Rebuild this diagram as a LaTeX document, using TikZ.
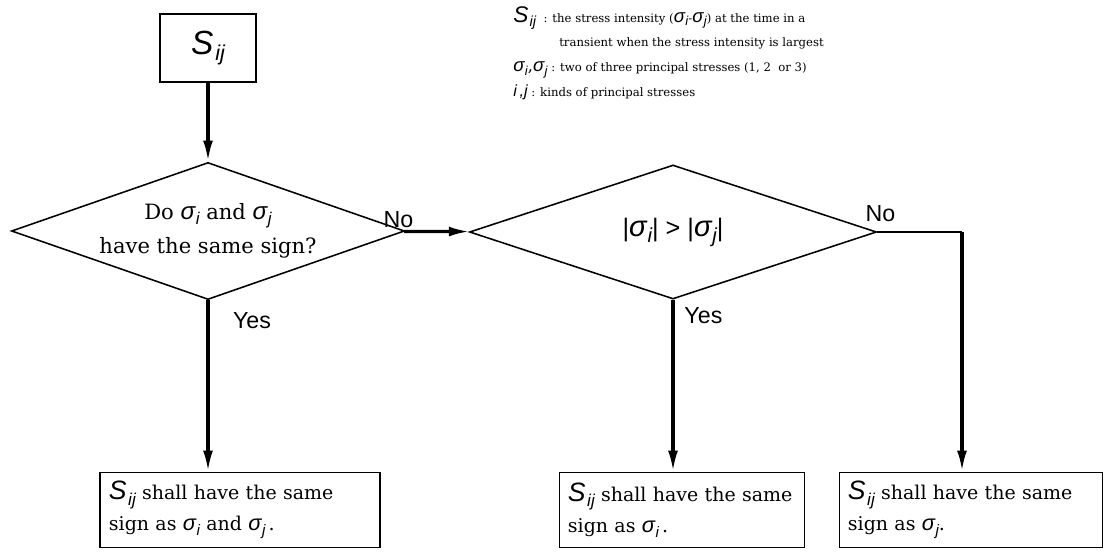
\documentclass[tikz,border=0pt]{standalone}
\usepackage{fontspec}
\setmainfont{DejaVu Serif}
\newfontfamily\helv{Liberation Sans}
\usetikzlibrary{shapes.geometric,arrows.meta,positioning}
\newcommand{\Sij}{{\helv\itshape\scalebox{1.4}{S}\kern.08em\raisebox{-.5ex}{\scalebox{.9}{ij}}}}
\newcommand{\sg}[1]{{\helv\itshape\scalebox{1.15}{σ}\kern.03em\raisebox{-.45ex}{\scalebox{.8}{#1}}}}
\newcommand{\keysize}{\fontsize{11.5}{14}\selectfont}

\begin{document}
\begin{tikzpicture}[x=0.025cm,y=-0.025cm,
  every node/.style={inner sep=0pt},
  flow/.style={line width=2.3pt,-{Latex[length=15pt,width=7pt]}},
  startbox/.style={draw,line width=1pt,minimum width=2.4cm,minimum height=1.7cm},
  decision/.style={draw,diamond,aspect=2.8,line width=1.1pt,align=center,
    font=\fontsize{15}{24}\selectfont},
  outcome/.style={draw,line width=1pt,align=left,inner xsep=6pt,
    minimum height=1.875cm,font=\fontsize{13.5}{22}\selectfont},
  lbl/.style={font=\helv\fontsize{16.5}{18}\selectfont}]
  \useasboundingbox (0,0) rectangle (1109,553);
  % start and decisions
  \node[startbox] (sij) at (208,48) {\fontsize{17}{20}\selectfont\Sij};
  \node[decision,minimum width=9.825cm,minimum height=3.425cm] (same) at (208,231)
    {Do \sg{i} and \sg{j}\\have the same sign?};
  \node[decision,minimum width=10.175cm,minimum height=3.35cm] (abs) at (673,232)
    {\helv\fontsize{18}{21}\selectfont |\sg{i}| > |\sg{j}|};
  % outcomes
  \node[outcome,minimum width=7cm,text width=6.55cm] (both) at (240,510)
    {\Sij{} shall have the same\\sign as \sg{i} and \sg{j}\,.};
  \node[outcome,minimum width=6.125cm,text width=5.7cm] (onei) at (682,510)
    {\Sij{} shall have the same\\sign as \sg{i}\,.};
  \node[outcome,minimum width=6.575cm,text width=6.15cm] (onej) at (971,510)
    {\Sij{} shall have the same\\sign as \sg{j}.};
  \coordinate (turn) at (962,232);
  % connectors
  \draw[flow] (sij) -- (same);
  \draw[flow] (same) -- (abs);
  \draw[flow] (same.south) -- (same.south |- both.north);
  \draw[flow] (abs.south) -- (abs.south |- onei.north);
  \draw[line width=1.6pt] (abs.east) -- (turn);
  \draw[flow] (turn) -- (turn |- onej.north);
  \node[lbl,anchor=south west] at ([xshift=-0.55cm,yshift=2pt]same.east) {No};
  \node[lbl,anchor=south west] at ([xshift=-0.3cm,yshift=7pt]abs.east) {No};
  \node[lbl,anchor=north west] at ([xshift=0.62cm,yshift=-0.3cm]same.south) {Yes};
  \node[lbl,anchor=north west] at ([xshift=0.28cm,yshift=-0.18cm]abs.south) {Yes};
  % legend
  \node[anchor=north west,align=left,font=\fontsize{8.3}{17.7}\selectfont] (legend) at (513,6)
    {{\keysize\Sij}~ : the stress intensity ({\keysize\sg{i}}-{\keysize\sg{j}}) at the time in a\\
     \hspace{1.15cm}transient when the stress intensity is largest\\
     {\keysize\sg{i},\sg{j}} : two of three principal stresses (1, 2~ or 3)\\
     {\keysize\helv\itshape i\,,j} : kinds of principal stresses};
\end{tikzpicture}
\end{document}
